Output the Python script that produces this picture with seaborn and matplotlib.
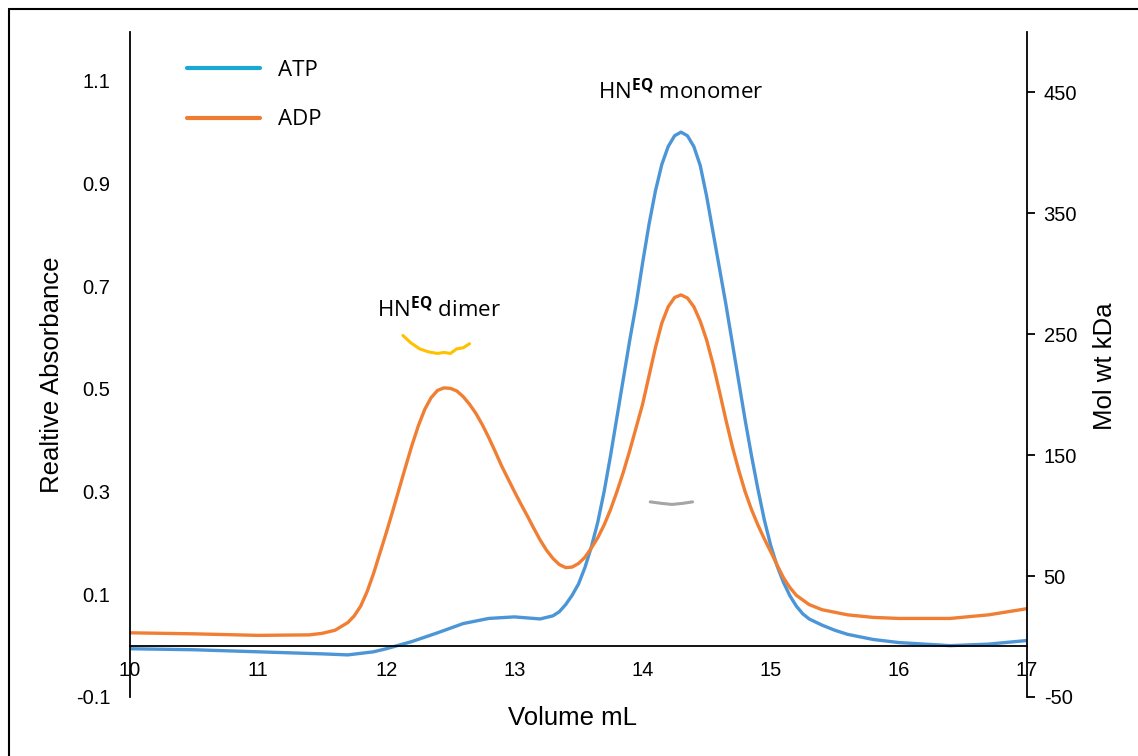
import matplotlib
matplotlib.use("Agg")
import matplotlib.pyplot as plt
from matplotlib.lines import Line2D
import seaborn as sns
import pandas as pd

# --- data ---
volume_atp = [10.0, 10.5, 11.0, 11.5, 11.7, 11.9, 12.0, 12.2, 12.4, 12.6, 12.8, 13.0, 13.2,
              13.30, 13.35, 13.40, 13.45, 13.50, 13.55, 13.60, 13.65, 13.70, 13.75, 13.80, 13.85,
              13.90, 13.95, 14.00, 14.05, 14.10, 14.15, 14.20, 14.25, 14.30, 14.35, 14.40, 14.45,
              14.50, 14.55, 14.60, 14.65, 14.70, 14.75, 14.80, 14.85, 14.90, 14.95, 15.00, 15.05,
              15.10, 15.15, 15.20, 15.25, 15.30, 15.40, 15.50, 15.60, 15.80, 16.0, 16.4, 16.7, 17.0]
abs_atp = [-0.006, -0.008, -0.012, -0.016, -0.018, -0.012, -0.006, 0.008, 0.025, 0.043, 0.053,
           0.056, 0.052,
           0.058, 0.066, 0.08, 0.098, 0.12, 0.152, 0.192, 0.24, 0.3, 0.37, 0.445, 0.52,
           0.595, 0.665, 0.745, 0.82, 0.885, 0.937, 0.972, 0.993, 1.0, 0.993, 0.972, 0.935,
           0.875, 0.805, 0.735, 0.665, 0.59, 0.515, 0.44, 0.37, 0.305, 0.245, 0.195, 0.155,
           0.123, 0.097, 0.077, 0.062, 0.052, 0.04, 0.03, 0.022, 0.012, 0.006, 0.0, 0.003, 0.01]

volume_adp = [10.0, 10.5, 11.0, 11.4, 11.5, 11.6, 11.7, 11.75, 11.8, 11.85, 11.9, 11.95, 12.0,
              12.05, 12.1, 12.15, 12.2, 12.25, 12.3, 12.35, 12.4, 12.45, 12.5, 12.55, 12.6, 12.65,
              12.7, 12.75, 12.8, 12.85, 12.9, 12.95, 13.0, 13.05, 13.1, 13.15, 13.2, 13.25, 13.3,
              13.35, 13.4, 13.45, 13.5, 13.55, 13.6, 13.65, 13.7, 13.75, 13.8, 13.85, 13.9, 13.95,
              14.0, 14.05, 14.1, 14.15, 14.2, 14.25, 14.3, 14.35, 14.4, 14.45, 14.5, 14.55, 14.6,
              14.65, 14.7, 14.75, 14.8, 14.85, 14.9, 14.95, 15.0, 15.05, 15.1, 15.15, 15.2, 15.3,
              15.4, 15.6, 15.8, 16.0, 16.4, 16.7, 17.0]
abs_adp = [0.025, 0.023, 0.02, 0.021, 0.024, 0.03, 0.045, 0.058, 0.077, 0.105, 0.14, 0.18, 0.22,
           0.262, 0.305, 0.348, 0.39, 0.428, 0.46, 0.483, 0.497, 0.502, 0.501, 0.496, 0.485, 0.47,
           0.452, 0.43, 0.405, 0.378, 0.35, 0.325, 0.3, 0.276, 0.253, 0.229, 0.206, 0.186, 0.17,
           0.158, 0.152, 0.153, 0.16, 0.172, 0.19, 0.21, 0.235, 0.265, 0.3, 0.338, 0.38, 0.425,
           0.47, 0.525, 0.58, 0.628, 0.66, 0.678, 0.683, 0.677, 0.66, 0.632, 0.595, 0.548, 0.495,
           0.44, 0.388, 0.342, 0.3, 0.265, 0.235, 0.208, 0.183, 0.157, 0.132, 0.113, 0.098, 0.08,
           0.07, 0.06, 0.055, 0.053, 0.053, 0.06, 0.072]

# short mol wt traces (drawn in absorbance units)
dimer_x = [12.13, 12.19, 12.26, 12.33, 12.40, 12.45, 12.50, 12.55, 12.60, 12.65]
dimer_y = [0.604, 0.590, 0.578, 0.572, 0.569, 0.571, 0.569, 0.578, 0.580, 0.588]
mono_x = [14.06, 14.15, 14.23, 14.31, 14.39]
mono_y = [0.280, 0.277, 0.275, 0.277, 0.280]

left_ticks = [-0.1, 0.1, 0.3, 0.5, 0.7, 0.9, 1.1]
right_ticks = [-50, 50, 150, 250, 350, 450]
x_ticks = [10, 11, 12, 13, 14, 15, 16, 17]

sns.set_theme(style="white")
plt.rcParams["font.family"] = ["Liberation Sans", "DejaVu Sans"]
plt.rcParams["axes.unicode_minus"] = False
plt.rcParams["text.color"] = "black"
plt.rcParams["axes.labelcolor"] = "black"
plt.rcParams["mathtext.fontset"] = "custom"
plt.rcParams["mathtext.rm"] = "Open Sans"
plt.rcParams["mathtext.bf"] = "Open Sans:bold"

fig = plt.figure(figsize=(11.38, 7.56), dpi=100)
ax = fig.add_axes([130 / 1138, 59 / 756, 897 / 1138, 665 / 756])

atp = pd.DataFrame({"vol": volume_atp, "abs": abs_atp})
adp = pd.DataFrame({"vol": volume_adp, "abs": abs_adp})
sns.lineplot(data=atp, x="vol", y="abs", ax=ax, color="#4C96D7", lw=2.4, sort=False)
sns.lineplot(data=adp, x="vol", y="abs", ax=ax, color="#F07F34", lw=2.4, sort=False)
ax.plot(dimer_x, dimer_y, color="#FFC000", lw=2.2)
ax.plot(mono_x, mono_y, color="#A5A5A5", lw=2.2)

ax.set_xlim(10, 17)
ax.set_ylim(-0.1, 1.195)
ax.set_yticks(left_ticks)
ax.set_yticklabels([f"{t:g}" for t in left_ticks])
ax.set_xticks(x_ticks)
ax.spines["top"].set_visible(False)
ax.spines["right"].set_visible(False)
ax.spines["bottom"].set_position(("data", 0))
for s in ["left", "bottom"]:
    ax.spines[s].set_color("black")
    ax.spines[s].set_linewidth(1.3)
ax.tick_params(axis="y", length=0, pad=14, labelsize=14.5, colors="black")
ax.tick_params(axis="x", length=0, pad=11, labelsize=14.5, colors="black")
ax.set_xlabel("Volume mL", fontsize=18.5, va="center")
ax.xaxis.set_label_coords(0.493, -0.0316)
ax.set_ylabel("Realtive Absorbance", fontsize=18.5, va="center")
ax.yaxis.set_label_coords(-0.087, 0.484)

ax2 = ax.twinx()
ax2.set_ylim(-50, 500)
ax2.set_yticks(right_ticks)
for s in ["top", "left", "bottom"]:
    ax2.spines[s].set_visible(False)
ax2.spines["right"].set_color("black")
ax2.spines["right"].set_linewidth(1.3)
ax2.tick_params(axis="y", length=6, width=1.3, pad=6, labelsize=14.5, colors="black", direction="out")
ax2.set_ylabel("Mol wt kDa", fontsize=18.5, va="center")
ax2.yaxis.set_label_coords(1.087, 0.498)

ax.text(12.41, 0.632, r"HN$^{\mathbf{EQ}}$ dimer", fontsize=16, family="Open Sans",
        ha="center", va="bottom", color="black")
ax.text(14.3, 1.055, r"HN$^{\mathbf{EQ}}$ monomer", fontsize=16, family="Open Sans",
        ha="center", va="bottom", color="black")

handles = [Line2D([], [], color="#1AA8D4", lw=3), Line2D([], [], color="#EE7D31", lw=3)]
leg = ax.legend(handles, ["ATP", "ADP"], loc="upper left", bbox_to_anchor=(0.041, 0.988),
                frameon=False, prop={"family": "Open Sans", "size": 16}, handlelength=3.3,
                handletextpad=0.8, labelspacing=1.28, labelcolor="black")

# page frame, only top/left edges visible
fig.add_artist(Line2D([8.5 / 1138, 8.5 / 1138], [0, 1 - 8.5 / 756], color="black", lw=1.5))
fig.add_artist(Line2D([8.5 / 1138, 1], [1 - 8.5 / 756, 1 - 8.5 / 756], color="black", lw=1.5))

fig.savefig("out.png", dpi=100)
